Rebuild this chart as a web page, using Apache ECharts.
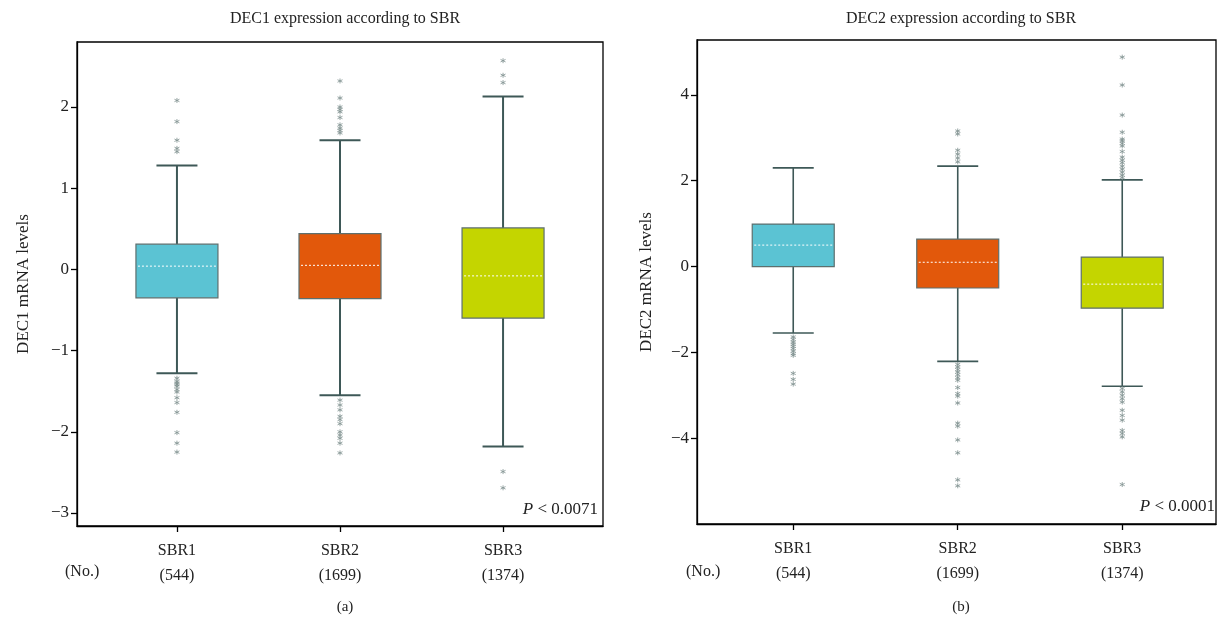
<!DOCTYPE html>
<html>
<head>
<meta charset="utf-8">
<script src="https://cdn.jsdelivr.net/npm/echarts@6/dist/echarts.min.js"></script>
<style>
  html, body { margin: 0; padding: 0; background: #fff; }
  #chart { width: 1217px; height: 620px; }
</style>
</head>
<body>
<div id="chart"></div>
<script>
// groups and sample sizes
const categories = ["SBR1", "SBR2", "SBR3"];
const counts = ["544", "1699", "1374"];

// box values: [lower whisker, Q1, median, Q3, upper whisker]
const dec1Boxes = [
  [-1.28, -0.35, 0.04, 0.31, 1.28],
  [-1.55, -0.36, 0.05, 0.44, 1.59],
  [-2.18, -0.60, -0.08, 0.51, 2.13]
];
const dec1Outliers = [
  [2.08, 1.82, 1.59, 1.49, 1.45, -1.34, -1.38, -1.40, -1.42, -1.44, -1.48, -1.51, -1.58, -1.64, -1.76, -2.01, -2.14, -2.25],
  [2.32, 2.11, 2.00, 1.97, 1.94, 1.87, 1.78, 1.74, 1.71, 1.68, -1.61, -1.67, -1.73, -1.81, -1.85, -1.90, -2.00, -2.04, -2.08, -2.14, -2.26],
  [2.57, 2.39, 2.30, -2.49, -2.69]
];

const dec2Boxes = [
  [-1.55, 0.0, 0.50, 0.99, 2.30],
  [-2.21, -0.50, 0.10, 0.64, 2.34],
  [-2.79, -0.97, -0.41, 0.22, 2.02]
];
const dec2Outliers = [
  [-1.64, -1.70, -1.76, -1.81, -1.86, -1.91, -1.97, -2.03, -2.07, -2.49, -2.63, -2.74],
  [3.16, 3.09, 2.71, 2.62, 2.53, 2.44, -2.28, -2.34, -2.40, -2.46, -2.52, -2.59, -2.65, -2.82, -2.96, -3.02, -3.18, -3.65, -3.72, -4.04, -4.34, -4.97, -5.11],
  [4.88, 4.23, 3.53, 3.13, 2.97, 2.93, 2.87, 2.81, 2.68, 2.55, 2.48, 2.42, 2.34, 2.27, 2.20, 2.13, 2.07, -2.84, -2.92, -3.00, -3.08, -3.16, -3.35, -3.47, -3.58, -3.82, -3.89, -3.97, -5.08]
];

const dec1Ticks = [-3, -2, -1, 0, 1, 2];
const dec2Ticks = [-4, -2, 0, 2, 4];

const boxColors = ["#5bc3d3", "#e2580b", "#c4d500"];
const font = "Liberation Serif";
const asterisk = "path://M5,0L5,10M0.7,2.5L9.3,7.5M0.7,7.5L9.3,2.5";

function minus(v) {
  return String(v).replace("-", "\u2212");
}

function boxRender(whiskerW) {
  return function (params, api) {
    const x = api.value(0);
    const low = api.coord([x, api.value(1)]);
    const q1 = api.coord([x, api.value(2)]);
    const med = api.coord([x, api.value(3)]);
    const q3 = api.coord([x, api.value(4)]);
    const high = api.coord([x, api.value(5)]);
    const half = 41, cap = 20.5;
    const wStyle = { stroke: "#3e5857", lineWidth: whiskerW };
    return {
      type: "group",
      children: [
        { type: "line", shape: { x1: high[0], y1: high[1], x2: q3[0], y2: q3[1] }, style: wStyle },
        { type: "line", shape: { x1: q1[0], y1: q1[1], x2: low[0], y2: low[1] }, style: wStyle },
        { type: "line", shape: { x1: high[0] - cap, y1: high[1], x2: high[0] + cap, y2: high[1] }, style: wStyle },
        { type: "line", shape: { x1: low[0] - cap, y1: low[1], x2: low[0] + cap, y2: low[1] }, style: wStyle },
        {
          type: "rect",
          shape: { x: q3[0] - half, y: q3[1], width: half * 2, height: q1[1] - q3[1] },
          style: { fill: boxColors[params.dataIndex], stroke: "#5d6f6e", lineWidth: 1.2 }
        },
        {
          type: "line",
          shape: { x1: med[0] - half + 2, y1: med[1], x2: med[0] + half - 2, y2: med[1] },
          style: { stroke: "#ffffff", lineWidth: 1, lineDash: [2, 2] }
        }
      ]
    };
  };
}

function boxData(boxes) {
  return boxes.map((b, i) => [i + 1].concat(b));
}

function outlierData(groups) {
  const out = [];
  groups.forEach((vals, i) => vals.forEach(v => out.push([i + 1, v])));
  return out;
}

function xAxisFor(gridIndex, min, max) {
  return {
    type: "value",
    gridIndex: gridIndex,
    min: min,
    max: max,
    splitLine: { show: false },
    axisLine: { show: true, onZero: false, lineStyle: { color: "#000", width: 1.3 } },
    axisTick: { show: true, length: 6, customValues: [1, 2, 3], lineStyle: { color: "#000", width: 1.3 } },
    axisLabel: {
      customValues: [1, 2, 3],
      margin: 12,
      fontFamily: font,
      fontSize: 16,
      color: "#222",
      lineHeight: 25,
      formatter: v => categories[v - 1] + "\n(" + counts[v - 1] + ")"
    }
  };
}

function yAxisFor(gridIndex, min, max, ticks, name, gap) {
  return {
    type: "value",
    gridIndex: gridIndex,
    min: min,
    max: max,
    name: name,
    nameLocation: "middle",
    nameRotate: 90,
    nameGap: gap,
    nameTextStyle: { fontFamily: font, fontSize: 17, color: "#222" },
    splitLine: { show: false },
    axisLine: { show: true, lineStyle: { color: "#000", width: 1.3 } },
    axisTick: { show: true, length: 6, customValues: ticks, lineStyle: { color: "#000", width: 1.3 } },
    axisLabel: {
      customValues: ticks,
      margin: 8,
      fontFamily: font,
      fontSize: 17,
      color: "#222",
      formatter: v => minus(v)
    }
  };
}

const chart = echarts.init(document.getElementById("chart"));

const option = {
  animation: false,
  backgroundColor: "#fff",
  title: [
    { text: "DEC1 expression according to SBR", left: 340, top: 6, textAlign: "center",
      textStyle: { fontFamily: font, fontSize: 16, fontWeight: "normal", color: "#222" } },
    { text: "DEC2 expression according to SBR", left: 956, top: 6, textAlign: "center",
      textStyle: { fontFamily: font, fontSize: 16, fontWeight: "normal", color: "#222" } },
    { text: "(a)", left: 340, top: 595, textAlign: "center",
      textStyle: { fontFamily: font, fontSize: 15, fontWeight: "normal", color: "#222" } },
    { text: "(b)", left: 956, top: 595, textAlign: "center",
      textStyle: { fontFamily: font, fontSize: 15, fontWeight: "normal", color: "#222" } }
  ],
  grid: [
    { left: 77, right: 614, top: 42, bottom: 94, show: true, borderColor: "#000", borderWidth: 1.3 },
    { left: 697, right: 1, top: 40, bottom: 96, show: true, borderColor: "#000", borderWidth: 1.3 }
  ],
  xAxis: [
    xAxisFor(0, 0.387, 3.613),
    xAxisFor(1, 0.415, 3.57)
  ],
  yAxis: [
    yAxisFor(0, -3.16, 2.80, dec1Ticks, "DEC1 mRNA levels", 45),
    yAxisFor(1, -6.0, 5.28, dec2Ticks, "DEC2 mRNA levels", 42)
  ],
  graphic: [
    { type: "text", left: 65, top: 564, style: { text: "(No.)", font: "16px " + font, fill: "#222" } },
    { type: "text", left: 686, top: 564, style: { text: "(No.)", font: "16px " + font, fill: "#222" } },
    { type: "text", right: 1217 - 598, top: 501,
      style: { text: "{i|P} < 0.0071", font: "17px " + font, fill: "#222",
        rich: { i: { fontStyle: "italic", fontFamily: font, fontSize: 17 } } } },
    { type: "text", right: 2, top: 498,
      style: { text: "{i|P} < 0.0001", font: "17px " + font, fill: "#222",
        rich: { i: { fontStyle: "italic", fontFamily: font, fontSize: 17 } } } }
  ],
  series: [
    { type: "custom", xAxisIndex: 0, yAxisIndex: 0, renderItem: boxRender(2), data: boxData(dec1Boxes), z: 2 },
    { type: "scatter", xAxisIndex: 0, yAxisIndex: 0, data: outlierData(dec1Outliers), symbol: asterisk, symbolSize: 5,
      itemStyle: { color: "transparent", borderColor: "#7f9190", borderWidth: 1 }, z: 3 },
    { type: "custom", xAxisIndex: 1, yAxisIndex: 1, renderItem: boxRender(1.6), data: boxData(dec2Boxes), z: 2 },
    { type: "scatter", xAxisIndex: 1, yAxisIndex: 1, data: outlierData(dec2Outliers), symbol: asterisk, symbolSize: 5,
      itemStyle: { color: "transparent", borderColor: "#7f9190", borderWidth: 1 }, z: 3 }
  ]
};

chart.setOption(option);
</script>
</body>
</html>
